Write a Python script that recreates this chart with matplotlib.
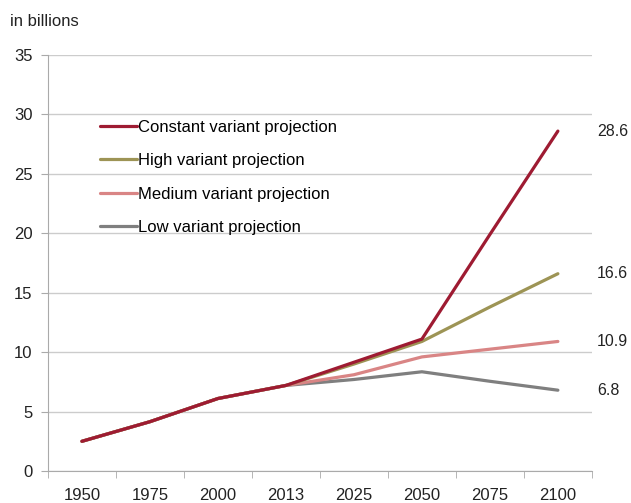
import numpy as np
import matplotlib.pyplot as plt

plt.rcParams['font.family'] = ['Liberation Sans', 'DejaVu Sans']

# Datos (miles de millones)
years = ['1950', '1975', '2000', '2013', '2025', '2050', '2075', '2100']
constant = [2.5, 4.15, 6.1, 7.2, 9.15, 11.1, 19.9, 28.6]
high = [2.5, 4.15, 6.1, 7.2, 9.0, 10.9, 13.8, 16.6]
medium = [2.5, 4.15, 6.1, 7.2, 8.1, 9.6, 10.25, 10.9]
low = [2.5, 4.15, 6.1, 7.2, 7.7, 8.35, 7.55, 6.8]
end_labels = ['28.6', '16.6', '10.9', '6.8']

series = [
    ('Constant variant projection', constant, '#9e1b32'),
    ('High variant projection', high, '#9d9455'),
    ('Medium variant projection', medium, '#d98585'),
    ('Low variant projection', low, '#7f7f7f'),
]

fig = plt.figure(figsize=(6.31, 5.03), dpi=100)
ax = fig.add_axes([0.076, 0.0636, 0.862, 0.827])

x = np.arange(len(years))
# dibujar de abajo hacia arriba para que la roja quede encima
for name, vals, col in reversed(series):
    ax.plot(x, vals, color=col, lw=2.3, label=name, solid_capstyle='round')

for (name, vals, col), lab in zip(series, end_labels):
    ax.annotate(lab, xy=(x[-1], vals[-1]), xytext=(28, 0), textcoords='offset points',
                va='center', ha='left', fontsize=11.5, color='#222222')

ax.set_xlim(-0.5, len(years) - 0.5)
ax.set_ylim(0, 35)
ax.set_yticks(np.arange(0, 36, 5))
ax.set_xticks(x)
ax.set_xticklabels(years)
ax.set_xticks(np.arange(-0.5, len(years), 1), minor=True)
ax.tick_params(axis='x', which='major', length=0, pad=12, labelsize=12, labelcolor='#222222')
ax.tick_params(axis='x', which='minor', length=5, color='#aaaaaa')
ax.tick_params(axis='y', length=5, color='#aaaaaa', labelsize=12, labelcolor='#222222', pad=6)

ax.grid(axis='y', color='#cccccc', lw=1)
ax.set_axisbelow(True)
for s in ['top', 'right']:
    ax.spines[s].set_visible(False)
for s in ['left', 'bottom']:
    ax.spines[s].set_color('#aaaaaa')

handles, labels = ax.get_legend_handles_labels()
ax.legend(handles[::-1], labels[::-1], loc='upper left', bbox_to_anchor=(0.069, 0.88),
          frameon=False, fontsize=12, handlelength=2.2, handletextpad=0.05,
          labelspacing=1.1)

fig.text(10 / 631, 1 - 22 / 503, 'in billions', fontsize=12, va='center', color='#222222')

plt.savefig('out.png', dpi=100)
